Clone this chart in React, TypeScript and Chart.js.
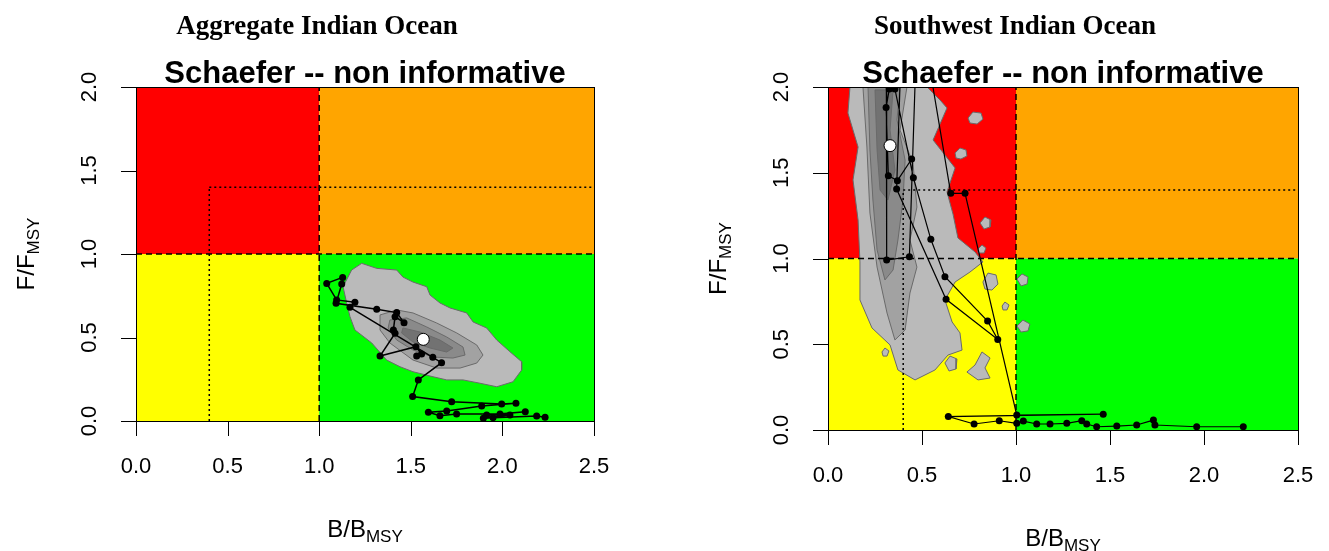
import React, { useEffect, useRef } from "react";
import { Chart, registerables } from "chart.js";
Chart.register(...registerables);

// ---------- data ----------
const PANEL_TITLES = ["Aggregate Indian Ocean", "Southwest Indian Ocean"];
const MODEL_TITLE = "Schaefer -- non informative";
const X_TICKS = [0, 0.5, 1, 1.5, 2, 2.5];
const X_TICK_LABELS = ["0.0", "0.5", "1.0", "1.5", "2.0", "2.5"];
const Y_TICKS = [0, 0.5, 1, 1.5, 2];
const Y_TICK_LABELS = ["0.0", "0.5", "1.0", "1.5", "2.0"];
const B_LIMIT = 1.0;
const F_LIMIT = 1.0;
const B_REF = 0.4;
const F_REF = 1.4;

// Aggregate Indian Ocean – trajectory (B/Bmsy, F/Fmsy)
const AGG_TRAJ: number[][] = [
  [2.233, 0.022], [2.187, 0.03], [1.949, 0.02], [1.896, 0.016], [2.041, 0.036], [1.914, 0.036],
  [2.125, 0.056], [1.987, 0.042], [1.75, 0.042], [1.659, 0.032], [1.596, 0.052], [1.696, 0.06],
  [1.887, 0.09], [2.074, 0.106], [1.996, 0.102], [1.723, 0.116], [1.51, 0.146], [1.541, 0.246],
  [1.668, 0.349], [1.62, 0.381], [1.168, 0.681], [1.195, 0.711], [1.095, 0.725], [1.041, 0.824],
  [1.128, 0.86], [1.123, 0.82], [1.092, 0.705], [1.314, 0.669], [1.423, 0.649], [1.463, 0.589],
  [1.414, 0.625], [1.405, 0.545], [1.414, 0.525], [1.332, 0.389], [1.528, 0.445], [1.559, 0.401],
  [1.532, 0.389],
];
const AGG_FINAL: number[][] = [[1.568, 0.489]];
const AGG_CONTOUR_1: number[][] = [
  [1.232, 0.944], [1.314, 0.914], [1.423, 0.904], [1.457, 0.862], [1.512, 0.832], [1.587, 0.804],
  [1.605, 0.754], [1.659, 0.707], [1.714, 0.677], [1.805, 0.647], [1.84, 0.593], [1.914, 0.557],
  [1.969, 0.485], [2.041, 0.415], [2.105, 0.355], [2.105, 0.305], [2.058, 0.235], [1.969, 0.205],
  [1.878, 0.226], [1.785, 0.246], [1.696, 0.246], [1.621, 0.265], [1.512, 0.295], [1.441, 0.325],
  [1.368, 0.365], [1.287, 0.467], [1.195, 0.545], [1.168, 0.625], [1.15, 0.707], [1.13, 0.804],
  [1.177, 0.904], [1.232, 0.944],
];
const AGG_CONTOUR_2: number[][] = [
  [1.332, 0.635], [1.423, 0.665], [1.512, 0.647], [1.641, 0.587], [1.751, 0.527], [1.86, 0.455],
  [1.894, 0.395], [1.86, 0.347], [1.769, 0.317], [1.641, 0.317], [1.512, 0.365], [1.386, 0.467],
  [1.332, 0.545], [1.332, 0.635],
];
const AGG_CONTOUR_3: number[][] = [
  [1.386, 0.605], [1.478, 0.617], [1.587, 0.563], [1.696, 0.503], [1.785, 0.443], [1.796, 0.395],
  [1.73, 0.377], [1.621, 0.383], [1.512, 0.425], [1.423, 0.485], [1.376, 0.557], [1.386, 0.605],
];
const AGG_CONTOUR_4: number[][] = [
  [1.457, 0.557], [1.55, 0.533], [1.659, 0.485], [1.73, 0.437], [1.696, 0.413], [1.605, 0.437],
  [1.512, 0.473], [1.45, 0.527], [1.457, 0.557],
];

// Southwest Indian Ocean – trajectory
const SW_TRAJ: number[][] = [
  [2.209, 0.019], [1.961, 0.019], [1.739, 0.029], [1.731, 0.058], [1.642, 0.029], [1.536, 0.023],
  [1.429, 0.019], [1.376, 0.035], [1.35, 0.054], [1.27, 0.039], [1.181, 0.035], [1.11, 0.035],
  [1.039, 0.052], [1.004, 0.039], [0.911, 0.054], [0.777, 0.035], [0.64, 0.078], [1.464, 0.092],
  [1.004, 0.087], [0.729, 1.38], [0.653, 1.38], [0.52, 2.25], [0.31, 2.25], [0.312, 0.991],
  [0.433, 1.01], [0.47, 2.25], [0.39, 2.25], [0.365, 1.405], [0.628, 0.762], [0.903, 0.528],
  [0.849, 0.635], [0.622, 0.894], [0.547, 1.112], [0.454, 1.471], [0.356, 1.988], [0.326, 1.988],
  [0.309, 1.88], [0.321, 1.483], [0.369, 1.454], [0.445, 1.58],
];
const SW_FINAL: number[][] = [[0.33, 1.658]];
const SW_CONTOUR_1: number[][] = [
  [0.117, 2.0], [0.527, 2.0], [0.596, 1.924], [0.633, 1.878], [0.559, 1.691], [0.676, 1.528],
  [0.633, 1.388], [0.665, 1.259], [0.691, 1.12], [0.782, 1.038], [0.824, 0.98], [0.755, 0.921],
  [0.676, 0.863], [0.622, 0.758], [0.66, 0.63], [0.702, 0.566], [0.713, 0.466], [0.638, 0.437],
  [0.569, 0.35], [0.463, 0.292], [0.372, 0.35], [0.33, 0.496], [0.234, 0.595], [0.17, 0.758],
  [0.17, 0.98], [0.16, 1.224], [0.133, 1.458], [0.16, 1.65], [0.106, 1.848], [0.117, 2.0],
];
const SW_CONTOUR_2: number[][] = [
  [0.186, 2.0], [0.42, 2.0], [0.383, 1.749], [0.452, 1.557], [0.473, 1.3], [0.436, 1.108],
  [0.473, 0.95], [0.436, 0.799], [0.41, 0.583], [0.356, 0.525], [0.314, 0.682], [0.261, 0.95],
  [0.223, 1.265], [0.207, 1.65], [0.186, 2.0],
];
const SW_CONTOUR_3: number[][] = [
  [0.213, 2.0], [0.383, 2.0], [0.367, 1.808], [0.41, 1.574], [0.399, 1.341], [0.372, 1.108],
  [0.346, 0.933], [0.303, 0.875], [0.261, 1.05], [0.239, 1.341], [0.223, 1.633], [0.213, 2.0],
];
const SW_CONTOUR_4: number[][] = [
  [0.25, 1.983], [0.346, 1.983], [0.33, 1.749], [0.356, 1.516], [0.319, 1.341], [0.277, 1.399],
  [0.261, 1.633], [0.25, 1.983],
];
const SW_ISLANDS: number[][][] = [
  [[0.745, 1.819], [0.771, 1.854], [0.814, 1.848], [0.824, 1.813], [0.793, 1.784], [0.755, 1.79], [0.745, 1.819]],
  [[0.676, 1.615], [0.702, 1.644], [0.734, 1.633], [0.739, 1.598], [0.707, 1.58], [0.681, 1.586], [0.676, 1.615]],
  [[0.809, 1.207], [0.835, 1.242], [0.867, 1.224], [0.862, 1.184], [0.83, 1.172], [0.809, 1.207]],
  [[0.798, 1.055], [0.819, 1.079], [0.84, 1.061], [0.83, 1.032], [0.803, 1.032], [0.798, 1.055]],
  [[0.824, 0.863], [0.851, 0.915], [0.894, 0.904], [0.904, 0.851], [0.872, 0.816], [0.835, 0.822], [0.824, 0.863]],
  [[1.005, 0.88], [1.032, 0.91], [1.064, 0.892], [1.059, 0.851], [1.027, 0.84], [1.005, 0.88]],
  [[1.005, 0.606], [1.037, 0.641], [1.074, 0.618], [1.064, 0.578], [1.027, 0.571], [1.005, 0.606]],
  [[0.739, 0.338], [0.782, 0.379], [0.819, 0.455], [0.862, 0.42], [0.835, 0.362], [0.862, 0.303], [0.798, 0.292], [0.739, 0.338]],
  [[0.622, 0.391], [0.649, 0.431], [0.686, 0.414], [0.681, 0.356], [0.644, 0.344], [0.622, 0.391]],
  [[0.287, 0.455], [0.303, 0.478], [0.324, 0.461], [0.314, 0.431], [0.293, 0.431], [0.287, 0.455]],
  [[0.926, 0.723], [0.941, 0.746], [0.963, 0.729], [0.952, 0.7], [0.931, 0.7], [0.926, 0.723]],
];

// ---------- styling ----------
const COLORS = {
  red: "#FF0000",
  orange: "#FFA500",
  yellow: "#FFFF00",
  green: "#00FF00",
  c1: "#BABABA",
  c2: "#A2A2A2",
  c3: "#8A8A8A",
  c4: "#727272",
  outline: "#6A6A6A",
};
const SANS = '"Liberation Sans", Arial, Helvetica, sans-serif';
const SERIF = '"Liberation Serif", "Times New Roman", serif';

const toPts = (a: number[][]) => a.map(([x, y]) => ({ x, y }));

type PanelCfg = {
  title: string;
  traj: number[][];
  final: number[][];
  contours: number[][][];
  islands: number[][][];
  padding: { left: number; right: number; top: number; bottom: number };
  lineWidth: number;
};

const PANELS: PanelCfg[] = [
  {
    title: PANEL_TITLES[0],
    traj: AGG_TRAJ,
    final: AGG_FINAL,
    contours: [AGG_CONTOUR_1, AGG_CONTOUR_2, AGG_CONTOUR_3, AGG_CONTOUR_4],
    islands: [],
    padding: { left: 136, right: 70, top: 87, bottom: 130 },
    lineWidth: 1.5,
  },
  {
    title: PANEL_TITLES[1],
    traj: SW_TRAJ,
    final: SW_FINAL,
    contours: [SW_CONTOUR_1, SW_CONTOUR_2, SW_CONTOUR_3, SW_CONTOUR_4],
    islands: SW_ISLANDS,
    padding: { left: 164, right: 31, top: 87, bottom: 121 },
    lineWidth: 1.2,
  },
];

function drawSubLabel(
  ctx: CanvasRenderingContext2D,
  main: string,
  sub: string,
  cx: number,
  cy: number,
  rotate: boolean
) {
  ctx.save();
  ctx.translate(cx, cy);
  if (rotate) ctx.rotate(-Math.PI / 2);
  const mainFont = `24px ${SANS}`;
  const subFont = `17px ${SANS}`;
  ctx.font = mainFont;
  const wm = ctx.measureText(main).width;
  ctx.font = subFont;
  const ws = ctx.measureText(sub).width;
  const start = -(wm + ws) / 2;
  ctx.fillStyle = "#000";
  ctx.textAlign = "left";
  ctx.textBaseline = "alphabetic";
  ctx.font = mainFont;
  ctx.fillText(main, start, 8.5);
  ctx.font = subFont;
  ctx.fillText(sub, start + wm, 14);
  ctx.restore();
}

function kobePlugin(cfg: PanelCfg) {
  return {
    id: "kobe",
    beforeDatasetsDraw(chart: any) {
      const { ctx, chartArea: a, scales } = chart;
      const xb = scales.x.getPixelForValue(B_LIMIT);
      const yf = scales.y.getPixelForValue(F_LIMIT);
      ctx.save();
      ctx.fillStyle = COLORS.red;
      ctx.fillRect(a.left, a.top, xb - a.left, yf - a.top);
      ctx.fillStyle = COLORS.orange;
      ctx.fillRect(xb, a.top, a.right - xb, yf - a.top);
      ctx.fillStyle = COLORS.yellow;
      ctx.fillRect(a.left, yf, xb - a.left, a.bottom - yf);
      ctx.fillStyle = COLORS.green;
      ctx.fillRect(xb, yf, a.right - xb, a.bottom - yf);
      ctx.restore();
    },
    afterDraw(chart: any) {
      const { ctx, chartArea: a, scales } = chart;
      const cx = (a.left + a.right) / 2;
      ctx.save();
      // box
      ctx.strokeStyle = "#000";
      ctx.lineWidth = 1;
      ctx.strokeRect(Math.round(a.left) + 0.5, Math.round(a.top) + 0.5, Math.round(a.right - a.left), Math.round(a.bottom - a.top));
      // ticks
      ctx.beginPath();
      X_TICKS.forEach((v) => {
        const px = Math.round(scales.x.getPixelForValue(v)) + 0.5;
        ctx.moveTo(px, a.bottom);
        ctx.lineTo(px, a.bottom + 15);
      });
      Y_TICKS.forEach((v) => {
        const py = Math.round(scales.y.getPixelForValue(v)) + 0.5;
        ctx.moveTo(a.left, py);
        ctx.lineTo(a.left - 15, py);
      });
      ctx.stroke();
      ctx.fillStyle = "#000";
      ctx.font = `22px ${SANS}`;
      ctx.textAlign = "center";
      ctx.textBaseline = "middle";
      X_TICKS.forEach((v, i) => {
        ctx.fillText(X_TICK_LABELS[i], scales.x.getPixelForValue(v), a.bottom + 46);
      });
      Y_TICKS.forEach((v, i) => {
        ctx.save();
        ctx.translate(a.left - 46, scales.y.getPixelForValue(v));
        ctx.rotate(-Math.PI / 2);
        ctx.fillText(Y_TICK_LABELS[i], 0, 0);
        ctx.restore();
      });
      // main title
      ctx.textBaseline = "alphabetic";
      ctx.font = `bold 31px ${SANS}`;
      ctx.fillText(MODEL_TITLE, cx, 83);
      // panel title
      ctx.font = `bold 27px ${SERIF}`;
      ctx.fillText(cfg.title, cx - 48, 34);
      ctx.restore();
      drawSubLabel(ctx, "B/B", "MSY", cx, a.bottom + 107, false);
      drawSubLabel(ctx, "F/F", "MSY", a.left - 111, (a.top + a.bottom) / 2, true);
    },
  };
}

function buildDatasets(cfg: PanelCfg) {
  const ds: any[] = [];
  const fills = [COLORS.c1, COLORS.c2, COLORS.c3, COLORS.c4];
  cfg.contours.forEach((c, i) => {
    ds.push({
      type: "line",
      data: toPts(c),
      fill: "shape",
      backgroundColor: fills[i],
      borderColor: COLORS.outline,
      borderWidth: 1,
      pointRadius: 0,
      tension: 0,
      order: 20 - i,
    });
  });
  cfg.islands.forEach((c) => {
    ds.push({
      type: "line",
      data: toPts(c),
      fill: "shape",
      backgroundColor: COLORS.c1,
      borderColor: COLORS.outline,
      borderWidth: 1,
      pointRadius: 0,
      tension: 0,
      order: 19,
    });
  });
  const refLine = (pts: number[][], dash: number[]) => ({
    type: "line",
    data: toPts(pts),
    fill: false,
    borderColor: "#000",
    borderWidth: 1.5,
    borderDash: dash,
    pointRadius: 0,
    tension: 0,
    order: 5,
  });
  ds.push(refLine([[B_LIMIT, 0], [B_LIMIT, 2]], [6, 4]));
  ds.push(refLine([[0, F_LIMIT], [2.5, F_LIMIT]], [6, 4]));
  ds.push(refLine([[B_REF, 0], [B_REF, F_REF]], [2, 3]));
  ds.push(refLine([[B_REF, F_REF], [2.5, F_REF]], [2, 3]));
  ds.push({
    type: "line",
    data: toPts(cfg.traj),
    fill: false,
    borderColor: "#000",
    borderWidth: cfg.lineWidth,
    pointRadius: 3.5,
    pointBackgroundColor: "#000",
    pointBorderColor: "#000",
    pointBorderWidth: 0,
    tension: 0,
    order: 2,
  });
  ds.push({
    type: "line",
    data: toPts(cfg.final),
    showLine: false,
    fill: false,
    pointRadius: 6,
    pointBackgroundColor: "#fff",
    pointBorderColor: "#000",
    pointBorderWidth: 1,
    order: 1,
  });
  return ds;
}

function Panel({ cfg }: { cfg: PanelCfg }) {
  const ref = useRef<HTMLCanvasElement | null>(null);
  useEffect(() => {
    if (!ref.current) return;
    const chart = new Chart(ref.current, {
      type: "line",
      data: { datasets: buildDatasets(cfg) },
      options: {
        animation: false,
        responsive: true,
        maintainAspectRatio: false,
        events: [],
        layout: { padding: cfg.padding },
        plugins: { legend: { display: false }, tooltip: { enabled: false }, title: { display: false } },
        scales: {
          x: { type: "linear", min: 0, max: 2.5, display: false },
          y: { type: "linear", min: 0, max: 2, display: false },
        },
      },
      plugins: [kobePlugin(cfg)],
    } as any);
    return () => chart.destroy();
  }, [cfg]);
  return <canvas ref={ref} style={{ display: "block" }} />;
}

export default function App() {
  return (
    <div style={{ position: "fixed", left: 0, top: 0, width: 1329, height: 551, background: "#fff" }}>
      <div style={{ position: "absolute", left: 0, top: 0, width: 664, height: 551 }}>
        <Panel cfg={PANELS[0]} />
      </div>
      <div style={{ position: "absolute", left: 664, top: 0, width: 665, height: 551 }}>
        <Panel cfg={PANELS[1]} />
      </div>
    </div>
  );
}
